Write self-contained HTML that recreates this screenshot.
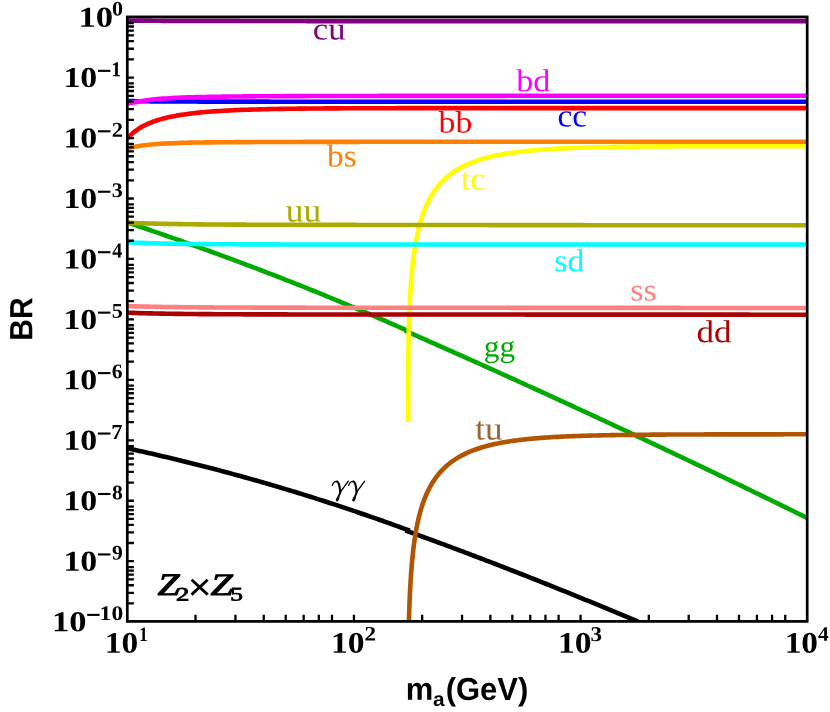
<!DOCTYPE html>
<html><head><meta charset="utf-8"><title>BR plot</title>
<style>html,body{margin:0;padding:0;background:#fff}body{width:830px;height:712px;overflow:hidden}svg{display:block;will-change:transform}</style>
</head><body>
<svg width="830" height="712" viewBox="0 0 830 712">
<rect x="0" y="0" width="830" height="712" fill="#fff"/>
<defs><clipPath id="c"><rect x="127.30" y="16.90" width="679.90" height="604.50"/></clipPath></defs>
<g clip-path="url(#c)">
<path d="M127.30,448.30 L130.30,448.94 L133.30,449.59 L136.30,450.25 L139.30,450.91 L142.30,451.58 L145.30,452.25 L148.30,452.93 L151.30,453.61 L154.30,454.30 L157.30,454.99 L160.30,455.68 L163.30,456.39 L166.30,457.09 L169.30,457.80 L172.30,458.52 L175.30,459.24 L178.30,459.96 L181.30,460.69 L184.30,461.43 L187.30,462.17 L190.30,462.91 L193.30,463.66 L196.30,464.42 L199.30,465.18 L202.30,465.94 L205.30,466.71 L208.30,467.49 L211.30,468.27 L214.30,469.05 L217.30,469.84 L220.30,470.63 L223.30,471.43 L226.30,472.24 L229.30,473.05 L232.30,473.86 L235.30,474.68 L238.30,475.50 L241.30,476.33 L244.30,477.16 L247.30,478.00 L250.30,478.84 L253.30,479.69 L256.30,480.54 L259.30,481.40 L262.30,482.26 L265.30,483.13 L268.30,484.00 L271.30,484.88 L274.30,485.76 L277.30,486.65 L280.30,487.54 L283.30,488.44 L286.30,489.34 L289.30,490.25 L292.30,491.16 L295.30,492.07 L298.30,492.99 L301.30,493.92 L304.30,494.85 L307.30,495.79 L310.30,496.73 L313.30,497.67 L316.30,498.62 L319.30,499.58 L322.30,500.54 L325.30,501.51 L328.30,502.48 L331.30,503.45 L334.30,504.43 L337.30,505.42 L340.30,506.40 L343.30,507.40 L346.30,508.40 L349.30,509.40 L352.30,510.41 L355.30,511.43 L358.30,512.45 L361.30,513.47 L364.30,514.50 L367.30,515.53 L370.30,516.57 L373.30,517.61 L376.30,518.66 L379.30,519.72 L382.30,520.77 L385.30,521.84 L388.30,522.90 L391.30,523.98 L394.30,525.05 L397.30,526.14 L400.30,527.22 L403.30,528.32 L406.30,529.41 L409.30,530.52 L409.80,530.70" fill="none" stroke="#000" stroke-width="4.6" stroke-linejoin="round" stroke-linecap="butt"/>
<path d="M405.40,530.42 L408.40,531.51 L411.40,532.60 L414.40,533.68 L417.40,534.78 L420.40,535.87 L423.40,536.97 L426.40,538.07 L429.40,539.17 L432.40,540.27 L435.40,541.38 L438.40,542.49 L441.40,543.60 L444.40,544.71 L447.40,545.83 L450.40,546.95 L453.40,548.07 L456.40,549.19 L459.40,550.31 L462.40,551.44 L465.40,552.57 L468.40,553.71 L471.40,554.84 L474.40,555.98 L477.40,557.12 L480.40,558.26 L483.40,559.41 L486.40,560.55 L489.40,561.70 L492.40,562.85 L495.40,564.01 L498.40,565.17 L501.40,566.32 L504.40,567.49 L507.40,568.65 L510.40,569.82 L513.40,570.99 L516.40,572.16 L519.40,573.33 L522.40,574.51 L525.40,575.69 L528.40,576.87 L531.40,578.05 L534.40,579.24 L537.40,580.42 L540.40,581.61 L543.40,582.81 L546.40,584.00 L549.40,585.20 L552.40,586.40 L555.40,587.60 L558.40,588.81 L561.40,590.02 L564.40,591.23 L567.40,592.44 L570.40,593.65 L573.40,594.87 L576.40,596.09 L579.40,597.31 L582.40,598.54 L585.40,599.76 L588.40,600.99 L591.40,602.22 L594.40,603.46 L597.40,604.69 L600.40,605.93 L603.40,607.17 L606.40,608.42 L609.40,609.66 L612.40,610.91 L615.40,612.16 L618.40,613.42 L621.40,614.67 L624.40,615.93 L627.40,617.19 L630.40,618.45 L633.40,619.72 L636.40,620.99 L639.40,622.26 L642.40,623.53 L645.40,624.80" fill="none" stroke="#000" stroke-width="4.6" stroke-linejoin="round" stroke-linecap="butt"/>
<path d="M127.30,222.39 L130.30,223.40 L133.30,224.42 L136.30,225.43 L139.30,226.45 L142.30,227.48 L145.30,228.50 L148.30,229.53 L151.30,230.56 L154.30,231.60 L157.30,232.63 L160.30,233.67 L163.30,234.71 L166.30,235.76 L169.30,236.80 L172.30,237.85 L175.30,238.91 L178.30,239.96 L181.30,241.02 L184.30,242.08 L187.30,243.14 L190.30,244.21 L193.30,245.28 L196.30,246.35 L199.30,247.43 L202.30,248.51 L205.30,249.59 L208.30,250.67 L211.30,251.76 L214.30,252.85 L217.30,253.94 L220.30,255.04 L223.30,256.14 L226.30,257.24 L229.30,258.35 L232.30,259.46 L235.30,260.57 L238.30,261.69 L241.30,262.81 L244.30,263.93 L247.30,265.06 L250.30,266.19 L253.30,267.32 L256.30,268.46 L259.30,269.60 L262.30,270.74 L265.30,271.89 L268.30,273.04 L271.30,274.20 L274.30,275.35 L277.30,276.51 L280.30,277.68 L283.30,278.85 L286.30,280.02 L289.30,281.20 L292.30,282.38 L295.30,283.56 L298.30,284.75 L301.30,285.94 L304.30,287.14 L307.30,288.34 L310.30,289.54 L313.30,290.75 L316.30,291.96 L319.30,293.17 L322.30,294.39 L325.30,295.61 L328.30,296.84 L331.30,298.07 L334.30,299.31 L337.30,300.55 L340.30,301.79 L343.30,303.04 L346.30,304.29 L349.30,305.55 L352.30,306.81 L355.30,308.07 L358.30,309.34 L361.30,310.62 L364.30,311.89 L367.30,313.18 L370.30,314.46 L373.30,315.75 L376.30,317.05 L379.30,318.35 L382.30,319.65 L385.30,320.96 L388.30,322.28 L391.30,323.60 L394.30,324.92 L397.30,326.25 L400.30,327.58 L403.30,328.92 L406.30,330.26 L408.00,331.02" fill="none" stroke="#00AA00" stroke-width="4.6" stroke-linejoin="round" stroke-linecap="butt"/>
<path d="M405.00,330.72 L408.00,332.04 L411.00,333.36 L414.00,334.68 L417.00,336.00 L420.00,337.32 L423.00,338.65 L426.00,339.97 L429.00,341.30 L432.00,342.63 L435.00,343.95 L438.00,345.28 L441.00,346.61 L444.00,347.95 L447.00,349.28 L450.00,350.61 L453.00,351.95 L456.00,353.29 L459.00,354.62 L462.00,355.96 L465.00,357.30 L468.00,358.64 L471.00,359.99 L474.00,361.33 L477.00,362.67 L480.00,364.02 L483.00,365.37 L486.00,366.72 L489.00,368.07 L492.00,369.42 L495.00,370.77 L498.00,372.12 L501.00,373.48 L504.00,374.83 L507.00,376.19 L510.00,377.55 L513.00,378.91 L516.00,380.27 L519.00,381.63 L522.00,382.99 L525.00,384.36 L528.00,385.72 L531.00,387.09 L534.00,388.45 L537.00,389.82 L540.00,391.19 L543.00,392.56 L546.00,393.94 L549.00,395.31 L552.00,396.69 L555.00,398.06 L558.00,399.44 L561.00,400.82 L564.00,402.20 L567.00,403.58 L570.00,404.96 L573.00,406.34 L576.00,407.73 L579.00,409.11 L582.00,410.50 L585.00,411.89 L588.00,413.27 L591.00,414.66 L594.00,416.06 L597.00,417.45 L600.00,418.84 L603.00,420.24 L606.00,421.63 L609.00,423.03 L612.00,424.43 L615.00,425.83 L618.00,427.23 L621.00,428.63 L624.00,430.03 L627.00,431.44 L630.00,432.84 L633.00,434.25 L636.00,435.66 L639.00,437.07 L642.00,438.48 L645.00,439.89 L648.00,441.30 L651.00,442.72 L654.00,444.13 L657.00,445.55 L660.00,446.97 L663.00,448.38 L666.00,449.80 L669.00,451.23 L672.00,452.65 L675.00,454.07 L678.00,455.50 L681.00,456.92 L684.00,458.35 L687.00,459.78 L690.00,461.21 L693.00,462.64 L696.00,464.07 L699.00,465.50 L702.00,466.94 L705.00,468.37 L708.00,469.81 L711.00,471.25 L714.00,472.68 L717.00,474.13 L720.00,475.57 L723.00,477.01 L726.00,478.45 L729.00,479.90 L732.00,481.34 L735.00,482.79 L738.00,484.24 L741.00,485.69 L744.00,487.14 L747.00,488.59 L750.00,490.04 L753.00,491.50 L756.00,492.95 L759.00,494.41 L762.00,495.87 L765.00,497.33 L768.00,498.79 L771.00,500.25 L774.00,501.71 L777.00,503.18 L780.00,504.64 L783.00,506.11 L786.00,507.58 L789.00,509.04 L792.00,510.51 L795.00,511.99 L798.00,513.46 L801.00,514.93 L804.00,516.41 L807.00,517.88 L807.20,517.98" fill="none" stroke="#00AA00" stroke-width="4.6" stroke-linejoin="round" stroke-linecap="butt"/>
<path d="M408.19,421.90 L408.20,421.76 L408.20,421.12 L408.20,420.48 L408.20,419.84 L408.20,419.20 L408.20,418.55 L408.20,417.91 L408.20,417.27 L408.20,416.63 L408.20,415.98 L408.20,415.34 L408.20,414.70 L408.20,414.06 L408.20,413.41 L408.20,412.77 L408.20,412.12 L408.20,411.48 L408.20,410.84 L408.20,410.19 L408.20,409.55 L408.20,408.90 L408.20,408.26 L408.20,407.61 L408.21,406.97 L408.21,406.32 L408.21,405.67 L408.21,405.03 L408.21,404.38 L408.21,403.73 L408.21,403.08 L408.21,402.43 L408.21,401.78 L408.21,401.14 L408.21,400.48 L408.21,399.83 L408.21,399.18 L408.21,398.53 L408.21,397.88 L408.21,397.23 L408.21,396.57 L408.21,395.92 L408.21,395.26 L408.21,394.61 L408.21,393.95 L408.21,393.29 L408.22,392.63 L408.22,391.97 L408.22,391.31 L408.22,390.65 L408.22,389.99 L408.22,389.32 L408.22,388.66 L408.22,387.99 L408.22,387.32 L408.22,386.65 L408.22,385.98 L408.23,385.31 L408.23,384.64 L408.23,383.96 L408.23,383.28 L408.23,382.60 L408.23,381.92 L408.23,381.24 L408.24,380.55 L408.24,379.87 L408.24,379.18 L408.24,378.48 L408.24,377.79 L408.25,377.09 L408.25,376.39 L408.25,375.69 L408.25,374.98 L408.26,374.27 L408.26,373.56 L408.26,372.84 L408.26,372.12 L408.27,371.40 L408.27,370.67 L408.28,369.93 L408.28,369.20 L408.28,368.45 L408.29,367.71 L408.29,366.96 L408.30,366.20 L408.30,365.44 L408.31,364.67 L408.31,363.90 L408.32,363.11 L408.32,362.33 L408.33,361.53 L408.33,360.73 L408.34,359.93 L408.35,359.11 L408.36,358.29 L408.36,357.46 L408.37,356.62 L408.38,355.77 L408.39,354.91 L408.40,354.04 L408.41,353.16 L408.42,352.27 L408.43,351.38 L408.44,350.47 L408.45,349.55 L408.47,348.61 L408.48,347.67 L408.49,346.71 L408.51,345.74 L408.52,344.75 L408.54,343.76 L408.56,342.74 L408.57,341.72 L408.59,340.67 L408.61,339.62 L408.63,338.54 L408.66,337.45 L408.68,336.35 L408.70,335.22 L408.73,334.08 L408.75,332.92 L408.78,331.75 L408.81,330.55 L408.84,329.34 L408.87,328.10 L408.91,326.85 L408.94,325.57 L408.98,324.28 L409.02,322.97 L409.06,321.63 L409.10,320.27 L409.15,318.90 L409.19,317.50 L409.24,316.08 L409.29,314.64 L409.35,313.17 L409.41,311.69 L409.47,310.18 L409.53,308.65 L409.60,307.11 L409.67,305.53 L409.74,303.94 L409.82,302.33 L409.90,300.69 L409.98,299.03 L410.07,297.36 L410.16,295.66 L410.26,293.94 L410.36,292.20 L410.47,290.45 L410.58,288.67 L410.70,286.87 L410.83,285.06 L410.96,283.23 L411.10,281.38 L411.24,279.51 L411.39,277.63 L411.55,275.73 L411.72,273.82 L411.90,271.89 L412.08,269.95 L412.27,267.99 L412.48,266.02 L412.69,264.04 L412.92,262.05 L413.15,260.05 L413.40,258.03 L413.66,256.01 L413.93,253.98 L414.22,251.94 L414.52,249.90 L414.83,247.85 L415.16,245.79 L415.51,243.73 L415.87,241.66 L416.26,239.59 L416.66,237.52 L417.08,235.45 L417.52,233.38 L417.99,231.30 L418.48,229.23 L418.99,227.16 L419.53,225.10 L420.09,223.04 L420.69,220.98 L421.31,218.93 L421.96,216.89 L422.65,214.85 L423.37,212.82 L424.13,210.81 L424.92,208.80 L425.76,206.81 L426.64,204.82 L427.56,202.86 L428.52,200.91 L429.53,198.97 L430.60,197.05 L431.72,195.16 L432.89,193.28 L434.12,191.42 L435.42,189.59 L436.77,187.77 L438.20,185.99 L438.70,185.39 L440.20,183.66 L441.70,182.04 L443.20,180.51 L444.70,179.07 L446.20,177.71 L447.70,176.43 L449.20,175.21 L450.70,174.05 L452.20,172.96 L453.70,171.91 L455.20,170.92 L456.70,169.98 L458.20,169.08 L459.70,168.22 L461.20,167.40 L462.70,166.62 L464.20,165.87 L465.70,165.15 L467.20,164.47 L468.70,163.81 L470.20,163.18 L471.70,162.58 L473.20,162.00 L474.70,161.45 L476.20,160.92 L477.70,160.40 L479.20,159.91 L480.70,159.44 L482.20,158.99 L483.70,158.55 L485.20,158.13 L486.70,157.73 L488.20,157.34 L489.70,156.96 L491.20,156.60 L492.70,156.25 L494.20,155.92 L495.70,155.59 L497.20,155.28 L498.70,154.98 L500.20,154.69 L501.70,154.41 L503.20,154.14 L504.70,153.88 L506.20,153.63 L507.70,153.39 L509.20,153.16 L510.70,152.93 L512.20,152.71 L513.70,152.50 L515.20,152.30 L516.70,152.10 L518.20,151.91 L519.70,151.72 L521.20,151.55 L522.70,151.37 L524.20,151.21 L525.70,151.05 L527.20,150.89 L528.70,150.74 L530.20,150.60 L531.70,150.46 L533.20,150.32 L534.70,150.19 L536.20,150.06 L537.70,149.94 L539.20,149.82 L540.70,149.70 L542.20,149.59 L543.70,149.48 L545.20,149.38 L546.70,149.28 L548.20,149.18 L549.70,149.08 L551.20,148.99 L552.70,148.90 L554.20,148.81 L555.70,148.73 L557.20,148.65 L558.70,148.57 L560.20,148.50 L561.70,148.42 L563.20,148.35 L564.70,148.28 L566.20,148.22 L567.70,148.15 L569.20,148.09 L570.70,148.03 L572.20,147.97 L573.70,147.91 L575.20,147.86 L576.70,147.80 L578.20,147.75 L579.70,147.70 L581.20,147.65 L582.70,147.60 L584.20,147.56 L585.70,147.51 L587.20,147.47 L588.70,147.43 L590.20,147.39 L591.70,147.35 L593.20,147.31 L594.70,147.27 L596.20,147.24 L597.70,147.20 L599.20,147.17 L600.70,147.14 L602.20,147.11 L603.70,147.08 L605.20,147.05 L606.70,147.02 L608.20,146.99 L609.70,146.96 L611.20,146.94 L612.70,146.91 L614.20,146.89 L615.70,146.86 L617.20,146.84 L618.70,146.82 L620.20,146.80 L621.70,146.78 L623.20,146.76 L624.70,146.74 L626.20,146.72 L627.70,146.70 L629.20,146.68 L630.70,146.66 L632.20,146.65 L633.70,146.63 L635.20,146.61 L636.70,146.60 L638.20,146.58 L639.70,146.57 L641.20,146.55 L642.70,146.54 L644.20,146.53 L645.70,146.51 L647.20,146.50 L648.70,146.49 L650.20,146.48 L651.70,146.47 L653.20,146.46 L654.70,146.44 L656.20,146.43 L657.70,146.42 L659.20,146.41 L660.70,146.40 L662.20,146.40 L663.70,146.39 L665.20,146.38 L666.70,146.37 L668.20,146.36 L669.70,146.35 L671.20,146.35 L672.70,146.34 L674.20,146.33 L675.70,146.32 L677.20,146.32 L678.70,146.31 L680.20,146.30 L681.70,146.30 L683.20,146.29 L684.70,146.29 L686.20,146.28 L687.70,146.28 L689.20,146.27 L690.70,146.27 L692.20,146.26 L693.70,146.26 L695.20,146.25 L696.70,146.25 L698.20,146.24 L699.70,146.24 L701.20,146.23 L702.70,146.23 L704.20,146.23 L705.70,146.22 L707.20,146.22 L708.70,146.21 L710.20,146.21 L711.70,146.21 L713.20,146.20 L714.70,146.20 L716.20,146.20 L717.70,146.20 L719.20,146.19 L720.70,146.19 L722.20,146.19 L723.70,146.18 L725.20,146.18 L726.70,146.18 L728.20,146.18 L729.70,146.17 L731.20,146.17 L732.70,146.17 L734.20,146.17 L735.70,146.17 L737.20,146.16 L738.70,146.16 L740.20,146.16 L741.70,146.16 L743.20,146.16 L744.70,146.16 L746.20,146.15 L747.70,146.15 L749.20,146.15 L750.70,146.15 L752.20,146.15 L753.70,146.15 L755.20,146.14 L756.70,146.14 L758.20,146.14 L759.70,146.14 L761.20,146.14 L762.70,146.14 L764.20,146.14 L765.70,146.14 L767.20,146.13 L768.70,146.13 L770.20,146.13 L771.70,146.13 L773.20,146.13 L774.70,146.13 L776.20,146.13 L777.70,146.13 L779.20,146.13 L780.70,146.13 L782.20,146.13 L783.70,146.12 L785.20,146.12 L786.70,146.12 L788.20,146.12 L789.70,146.12 L791.20,146.12 L792.70,146.12 L794.20,146.12 L795.70,146.12 L797.20,146.12 L798.70,146.12 L800.20,146.12 L801.70,146.12 L803.20,146.12 L804.70,146.12 L806.20,146.12 L807.20,146.12" fill="none" stroke="#FFFF00" stroke-width="4.6" stroke-linejoin="round" stroke-linecap="butt"/>
<path d="M408.83,624.62 L408.90,622.10 L408.97,619.58 L409.04,617.07 L409.12,614.55 L409.20,612.04 L409.28,609.52 L409.37,607.01 L409.46,604.51 L409.56,602.00 L409.66,599.50 L409.77,597.00 L409.88,594.50 L410.00,592.01 L410.13,589.52 L410.26,587.03 L410.40,584.55 L410.54,582.07 L410.69,579.59 L410.85,577.12 L411.02,574.65 L411.20,572.19 L411.38,569.73 L411.57,567.27 L411.78,564.82 L411.99,562.38 L412.22,559.94 L412.45,557.50 L412.70,555.08 L412.96,552.66 L413.23,550.24 L413.52,547.84 L413.82,545.44 L414.13,543.04 L414.46,540.66 L414.81,538.28 L415.17,535.92 L415.56,533.56 L415.96,531.21 L416.38,528.87 L416.82,526.54 L417.29,524.23 L417.78,521.92 L418.29,519.63 L418.83,517.35 L419.39,515.08 L419.99,512.83 L420.61,510.59 L421.26,508.37 L421.95,506.16 L422.67,503.97 L423.43,501.79 L424.22,499.64 L425.06,497.50 L425.94,495.38 L426.86,493.29 L427.82,491.21 L428.83,489.16 L429.90,487.13 L431.02,485.12 L432.19,483.14 L433.42,481.18 L434.72,479.25 L436.07,477.35 L437.50,475.48 L438.00,474.85 L439.50,473.05 L441.00,471.36 L442.50,469.76 L444.00,468.26 L445.50,466.85 L447.00,465.51 L448.50,464.25 L450.00,463.05 L451.50,461.91 L453.00,460.83 L454.50,459.81 L456.00,458.83 L457.50,457.90 L459.00,457.01 L460.50,456.17 L462.00,455.36 L463.50,454.59 L465.00,453.85 L466.50,453.14 L468.00,452.47 L469.50,451.82 L471.00,451.20 L472.50,450.60 L474.00,450.03 L475.50,449.48 L477.00,448.96 L478.50,448.45 L480.00,447.97 L481.50,447.50 L483.00,447.05 L484.50,446.62 L486.00,446.21 L487.50,445.81 L489.00,445.42 L490.50,445.05 L492.00,444.69 L493.50,444.35 L495.00,444.02 L496.50,443.70 L498.00,443.39 L499.50,443.09 L501.00,442.81 L502.50,442.53 L504.00,442.26 L505.50,442.01 L507.00,441.76 L508.50,441.52 L510.00,441.29 L511.50,441.06 L513.00,440.85 L514.50,440.64 L516.00,440.44 L517.50,440.24 L519.00,440.05 L520.50,439.87 L522.00,439.69 L523.50,439.52 L525.00,439.36 L526.50,439.20 L528.00,439.05 L529.50,438.90 L531.00,438.75 L532.50,438.61 L534.00,438.48 L535.50,438.35 L537.00,438.22 L538.50,438.10 L540.00,437.98 L541.50,437.87 L543.00,437.76 L544.50,437.65 L546.00,437.55 L547.50,437.45 L549.00,437.35 L550.50,437.25 L552.00,437.16 L553.50,437.07 L555.00,436.99 L556.50,436.91 L558.00,436.83 L559.50,436.75 L561.00,436.67 L562.50,436.60 L564.00,436.53 L565.50,436.46 L567.00,436.40 L568.50,436.33 L570.00,436.27 L571.50,436.21 L573.00,436.15 L574.50,436.09 L576.00,436.04 L577.50,435.99 L579.00,435.93 L580.50,435.89 L582.00,435.84 L583.50,435.79 L585.00,435.74 L586.50,435.70 L588.00,435.66 L589.50,435.62 L591.00,435.58 L592.50,435.54 L594.00,435.50 L595.50,435.46 L597.00,435.43 L598.50,435.39 L600.00,435.36 L601.50,435.33 L603.00,435.30 L604.50,435.27 L606.00,435.24 L607.50,435.21 L609.00,435.18 L610.50,435.16 L612.00,435.13 L613.50,435.10 L615.00,435.08 L616.50,435.06 L618.00,435.03 L619.50,435.01 L621.00,434.99 L622.50,434.97 L624.00,434.95 L625.50,434.93 L627.00,434.91 L628.50,434.89 L630.00,434.87 L631.50,434.86 L633.00,434.84 L634.50,434.82 L636.00,434.81 L637.50,434.79 L639.00,434.78 L640.50,434.76 L642.00,434.75 L643.50,434.74 L645.00,434.72 L646.50,434.71 L648.00,434.70 L649.50,434.69 L651.00,434.67 L652.50,434.66 L654.00,434.65 L655.50,434.64 L657.00,434.63 L658.50,434.62 L660.00,434.61 L661.50,434.60 L663.00,434.59 L664.50,434.58 L666.00,434.58 L667.50,434.57 L669.00,434.56 L670.50,434.55 L672.00,434.54 L673.50,434.54 L675.00,434.53 L676.50,434.52 L678.00,434.52 L679.50,434.51 L681.00,434.50 L682.50,434.50 L684.00,434.49 L685.50,434.49 L687.00,434.48 L688.50,434.47 L690.00,434.47 L691.50,434.46 L693.00,434.46 L694.50,434.45 L696.00,434.45 L697.50,434.45 L699.00,434.44 L700.50,434.44 L702.00,434.43 L703.50,434.43 L705.00,434.42 L706.50,434.42 L708.00,434.42 L709.50,434.41 L711.00,434.41 L712.50,434.41 L714.00,434.40 L715.50,434.40 L717.00,434.40 L718.50,434.39 L720.00,434.39 L721.50,434.39 L723.00,434.39 L724.50,434.38 L726.00,434.38 L727.50,434.38 L729.00,434.38 L730.50,434.37 L732.00,434.37 L733.50,434.37 L735.00,434.37 L736.50,434.37 L738.00,434.36 L739.50,434.36 L741.00,434.36 L742.50,434.36 L744.00,434.36 L745.50,434.35 L747.00,434.35 L748.50,434.35 L750.00,434.35 L751.50,434.35 L753.00,434.35 L754.50,434.35 L756.00,434.34 L757.50,434.34 L759.00,434.34 L760.50,434.34 L762.00,434.34 L763.50,434.34 L765.00,434.34 L766.50,434.34 L768.00,434.33 L769.50,434.33 L771.00,434.33 L772.50,434.33 L774.00,434.33 L775.50,434.33 L777.00,434.33 L778.50,434.33 L780.00,434.33 L781.50,434.33 L783.00,434.33 L784.50,434.32 L786.00,434.32 L787.50,434.32 L789.00,434.32 L790.50,434.32 L792.00,434.32 L793.50,434.32 L795.00,434.32 L796.50,434.32 L798.00,434.32 L799.50,434.32 L801.00,434.32 L802.50,434.32 L804.00,434.32 L805.50,434.32 L807.00,434.32 L807.20,434.32" fill="none" stroke="#B25500" stroke-width="4.6" stroke-linejoin="round" stroke-linecap="butt"/>
<path d="M127.30,20.55 L130.30,20.57 L133.30,20.60 L136.30,20.62 L139.30,20.64 L142.30,20.66 L145.30,20.68 L148.30,20.70 L151.30,20.71 L154.30,20.73 L157.30,20.75 L160.30,20.76 L163.30,20.78 L166.30,20.79 L169.30,20.80 L172.30,20.81 L175.30,20.83 L178.30,20.84 L181.30,20.85 L184.30,20.86 L187.30,20.87 L190.30,20.88 L193.30,20.88 L196.30,20.89 L199.30,20.90 L202.30,20.91 L205.30,20.91 L208.30,20.92 L211.30,20.93 L214.30,20.93 L217.30,20.94 L220.30,20.94 L223.30,20.95 L226.30,20.95 L229.30,20.96 L232.30,20.96 L235.30,20.97 L238.30,20.97 L241.30,20.98 L244.30,20.98 L247.30,20.98 L250.30,20.99 L253.30,20.99 L256.30,20.99 L259.30,20.99 L262.30,21.00 L265.30,21.00 L268.30,21.00 L271.30,21.00 L274.30,21.01 L277.30,21.01 L280.30,21.01 L283.30,21.01 L286.30,21.01 L289.30,21.02 L292.30,21.02 L295.30,21.02 L298.30,21.02 L301.30,21.02 L304.30,21.02 L307.30,21.03 L310.30,21.03 L313.30,21.03 L316.30,21.03 L319.30,21.03 L322.30,21.03 L325.30,21.03 L328.30,21.03 L331.30,21.03 L334.30,21.03 L337.30,21.03 L340.30,21.04 L343.30,21.04 L346.30,21.04 L349.30,21.04 L352.30,21.04 L355.30,21.04 L358.30,21.04 L361.30,21.04 L364.30,21.04 L367.30,21.04 L370.30,21.04 L373.30,21.04 L376.30,21.04 L379.30,21.04 L382.30,21.04 L385.30,21.04 L388.30,21.04 L391.30,21.04 L394.30,21.04 L397.30,21.04 L400.30,21.04 L403.30,21.04 L406.30,21.05 L409.30,21.05 L412.30,21.05 L415.30,21.05 L418.30,21.05 L421.30,21.05 L424.30,21.05 L427.30,21.05 L430.30,21.05 L433.30,21.05 L436.30,21.05 L439.30,21.05 L442.30,21.05 L445.30,21.05 L448.30,21.05 L451.30,21.05 L454.30,21.05 L457.30,21.05 L460.30,21.05 L463.30,21.05 L466.30,21.05 L469.30,21.05 L472.30,21.05 L475.30,21.05 L478.30,21.05 L481.30,21.05 L484.30,21.05 L487.30,21.05 L490.30,21.05 L493.30,21.05 L496.30,21.05 L499.30,21.05 L502.30,21.05 L505.30,21.05 L508.30,21.05 L511.30,21.05 L514.30,21.05 L517.30,21.05 L520.30,21.05 L523.30,21.05 L526.30,21.05 L529.30,21.05 L532.30,21.05 L535.30,21.05 L538.30,21.05 L541.30,21.05 L544.30,21.05 L547.30,21.05 L550.30,21.05 L553.30,21.05 L556.30,21.05 L559.30,21.05 L562.30,21.05 L565.30,21.05 L568.30,21.05 L571.30,21.05 L574.30,21.05 L577.30,21.05 L580.30,21.05 L583.30,21.05 L586.30,21.05 L589.30,21.05 L592.30,21.05 L595.30,21.05 L598.30,21.05 L601.30,21.05 L604.30,21.05 L607.30,21.05 L610.30,21.05 L613.30,21.05 L616.30,21.05 L619.30,21.05 L622.30,21.05 L625.30,21.05 L628.30,21.05 L631.30,21.05 L634.30,21.05 L637.30,21.05 L640.30,21.05 L643.30,21.05 L646.30,21.05 L649.30,21.05 L652.30,21.05 L655.30,21.05 L658.30,21.05 L661.30,21.05 L664.30,21.05 L667.30,21.05 L670.30,21.05 L673.30,21.05 L676.30,21.05 L679.30,21.05 L682.30,21.05 L685.30,21.05 L688.30,21.05 L691.30,21.05 L694.30,21.05 L697.30,21.05 L700.30,21.05 L703.30,21.05 L706.30,21.05 L709.30,21.05 L712.30,21.05 L715.30,21.05 L718.30,21.05 L721.30,21.05 L724.30,21.05 L727.30,21.05 L730.30,21.05 L733.30,21.05 L736.30,21.05 L739.30,21.05 L742.30,21.05 L745.30,21.05 L748.30,21.05 L751.30,21.05 L754.30,21.05 L757.30,21.05 L760.30,21.05 L763.30,21.05 L766.30,21.05 L769.30,21.05 L772.30,21.05 L775.30,21.05 L778.30,21.05 L781.30,21.05 L784.30,21.05 L787.30,21.05 L790.30,21.05 L793.30,21.05 L796.30,21.05 L799.30,21.05 L802.30,21.05 L807.20,21.05" fill="none" stroke="#800080" stroke-width="4.7" stroke-linejoin="round" stroke-linecap="butt"/>
<path d="M127.30,101.10 L130.30,101.14 L133.30,101.17 L136.30,101.21 L139.30,101.24 L142.30,101.27 L145.30,101.30 L148.30,101.32 L151.30,101.35 L154.30,101.37 L157.30,101.39 L160.30,101.41 L163.30,101.43 L166.30,101.45 L169.30,101.46 L172.30,101.48 L175.30,101.49 L178.30,101.51 L181.30,101.52 L184.30,101.53 L187.30,101.54 L190.30,101.55 L193.30,101.56 L196.30,101.57 L199.30,101.58 L202.30,101.59 L205.30,101.59 L208.30,101.60 L211.30,101.61 L214.30,101.61 L217.30,101.62 L220.30,101.62 L223.30,101.63 L226.30,101.63 L229.30,101.64 L232.30,101.64 L235.30,101.65 L238.30,101.65 L241.30,101.65 L244.30,101.66 L247.30,101.66 L250.30,101.66 L253.30,101.66 L256.30,101.67 L259.30,101.67 L262.30,101.67 L265.30,101.67 L268.30,101.67 L271.30,101.68 L274.30,101.68 L277.30,101.68 L280.30,101.68 L283.30,101.68 L286.30,101.68 L289.30,101.68 L292.30,101.68 L295.30,101.69 L298.30,101.69 L301.30,101.69 L304.30,101.69 L307.30,101.69 L310.30,101.69 L313.30,101.69 L316.30,101.69 L319.30,101.69 L322.30,101.69 L325.30,101.69 L328.30,101.69 L331.30,101.69 L334.30,101.69 L337.30,101.69 L340.30,101.69 L343.30,101.70 L346.30,101.70 L349.30,101.70 L352.30,101.70 L355.30,101.70 L358.30,101.70 L361.30,101.70 L364.30,101.70 L367.30,101.70 L370.30,101.70 L373.30,101.70 L376.30,101.70 L379.30,101.70 L382.30,101.70 L385.30,101.70 L388.30,101.70 L391.30,101.70 L394.30,101.70 L397.30,101.70 L400.30,101.70 L403.30,101.70 L406.30,101.70 L409.30,101.70 L412.30,101.70 L415.30,101.70 L418.30,101.70 L421.30,101.70 L424.30,101.70 L427.30,101.70 L430.30,101.70 L433.30,101.70 L436.30,101.70 L439.30,101.70 L442.30,101.70 L445.30,101.70 L448.30,101.70 L451.30,101.70 L454.30,101.70 L457.30,101.70 L460.30,101.70 L463.30,101.70 L466.30,101.70 L469.30,101.70 L472.30,101.70 L475.30,101.70 L478.30,101.70 L481.30,101.70 L484.30,101.70 L487.30,101.70 L490.30,101.70 L493.30,101.70 L496.30,101.70 L499.30,101.70 L502.30,101.70 L505.30,101.70 L508.30,101.70 L511.30,101.70 L514.30,101.70 L517.30,101.70 L520.30,101.70 L523.30,101.70 L526.30,101.70 L529.30,101.70 L532.30,101.70 L535.30,101.70 L538.30,101.70 L541.30,101.70 L544.30,101.70 L547.30,101.70 L550.30,101.70 L553.30,101.70 L556.30,101.70 L559.30,101.70 L562.30,101.70 L565.30,101.70 L568.30,101.70 L571.30,101.70 L574.30,101.70 L577.30,101.70 L580.30,101.70 L583.30,101.70 L586.30,101.70 L589.30,101.70 L592.30,101.70 L595.30,101.70 L598.30,101.70 L601.30,101.70 L604.30,101.70 L607.30,101.70 L610.30,101.70 L613.30,101.70 L616.30,101.70 L619.30,101.70 L622.30,101.70 L625.30,101.70 L628.30,101.70 L631.30,101.70 L634.30,101.70 L637.30,101.70 L640.30,101.70 L643.30,101.70 L646.30,101.70 L649.30,101.70 L652.30,101.70 L655.30,101.70 L658.30,101.70 L661.30,101.70 L664.30,101.70 L667.30,101.70 L670.30,101.70 L673.30,101.70 L676.30,101.70 L679.30,101.70 L682.30,101.70 L685.30,101.70 L688.30,101.70 L691.30,101.70 L694.30,101.70 L697.30,101.70 L700.30,101.70 L703.30,101.70 L706.30,101.70 L709.30,101.70 L712.30,101.70 L715.30,101.70 L718.30,101.70 L721.30,101.70 L724.30,101.70 L727.30,101.70 L730.30,101.70 L733.30,101.70 L736.30,101.70 L739.30,101.70 L742.30,101.70 L745.30,101.70 L748.30,101.70 L751.30,101.70 L754.30,101.70 L757.30,101.70 L760.30,101.70 L763.30,101.70 L766.30,101.70 L769.30,101.70 L772.30,101.70 L775.30,101.70 L778.30,101.70 L781.30,101.70 L784.30,101.70 L787.30,101.70 L790.30,101.70 L793.30,101.70 L796.30,101.70 L799.30,101.70 L802.30,101.70 L807.20,101.70" fill="none" stroke="#0000FF" stroke-width="4.6" stroke-linejoin="round" stroke-linecap="butt"/>
<path d="M127.30,103.50 L130.30,102.95 L133.30,102.41 L136.30,101.89 L139.30,101.39 L142.30,100.91 L145.30,100.47 L148.30,100.06 L151.30,99.70 L154.30,99.38 L157.30,99.10 L160.30,98.87 L163.30,98.66 L166.30,98.46 L169.30,98.27 L172.30,98.09 L175.30,97.92 L178.30,97.77 L181.30,97.62 L184.30,97.49 L187.30,97.38 L190.30,97.28 L193.30,97.19 L196.30,97.12 L199.30,97.06 L202.30,97.00 L205.30,96.94 L208.30,96.89 L211.30,96.84 L214.30,96.79 L217.30,96.74 L220.30,96.70 L223.30,96.65 L226.30,96.61 L229.30,96.57 L232.30,96.53 L235.30,96.50 L238.30,96.47 L241.30,96.43 L244.30,96.40 L247.30,96.38 L250.30,96.35 L253.30,96.33 L256.30,96.30 L259.30,96.28 L262.30,96.26 L265.30,96.24 L268.30,96.23 L271.30,96.21 L274.30,96.20 L277.30,96.19 L280.30,96.18 L283.30,96.16 L286.30,96.15 L289.30,96.14 L292.30,96.13 L295.30,96.12 L298.30,96.11 L301.30,96.10 L304.30,96.09 L307.30,96.08 L310.30,96.07 L313.30,96.06 L316.30,96.05 L319.30,96.04 L322.30,96.04 L325.30,96.03 L328.30,96.02 L331.30,96.01 L334.30,96.00 L337.30,96.00 L340.30,95.99 L343.30,95.98 L346.30,95.98 L349.30,95.97 L352.30,95.97 L355.30,95.96 L358.30,95.95 L361.30,95.95 L364.30,95.94 L367.30,95.94 L370.30,95.93 L373.30,95.93 L376.30,95.93 L379.30,95.92 L382.30,95.92 L385.30,95.91 L388.30,95.91 L391.30,95.91 L394.30,95.91 L397.30,95.90 L400.30,95.90 L403.30,95.90 L406.30,95.89 L409.30,95.89 L412.30,95.89 L415.30,95.89 L418.30,95.88 L421.30,95.88 L424.30,95.88 L427.30,95.88 L430.30,95.87 L433.30,95.87 L436.30,95.87 L439.30,95.87 L442.30,95.87 L445.30,95.86 L448.30,95.86 L451.30,95.86 L454.30,95.86 L457.30,95.85 L460.30,95.85 L463.30,95.85 L466.30,95.85 L469.30,95.85 L472.30,95.84 L475.30,95.84 L478.30,95.84 L481.30,95.84 L484.30,95.84 L487.30,95.84 L490.30,95.83 L493.30,95.83 L496.30,95.83 L499.30,95.83 L502.30,95.83 L505.30,95.83 L508.30,95.82 L511.30,95.82 L514.30,95.82 L517.30,95.82 L520.30,95.82 L523.30,95.82 L526.30,95.82 L529.30,95.81 L532.30,95.81 L535.30,95.81 L538.30,95.81 L541.30,95.81 L544.30,95.81 L547.30,95.81 L550.30,95.81 L553.30,95.81 L556.30,95.81 L559.30,95.81 L562.30,95.80 L565.30,95.80 L568.30,95.80 L571.30,95.80 L574.30,95.80 L577.30,95.80 L580.30,95.80 L583.30,95.80 L586.30,95.80 L589.30,95.80 L592.30,95.80 L595.30,95.80 L598.30,95.80 L601.30,95.80 L604.30,95.80 L607.30,95.80 L610.30,95.80 L613.30,95.80 L616.30,95.80 L619.30,95.80 L622.30,95.80 L625.30,95.80 L628.30,95.80 L631.30,95.80 L634.30,95.80 L637.30,95.80 L640.30,95.80 L643.30,95.80 L646.30,95.80 L649.30,95.80 L652.30,95.80 L655.30,95.80 L658.30,95.80 L661.30,95.80 L664.30,95.80 L667.30,95.80 L670.30,95.80 L673.30,95.80 L676.30,95.80 L679.30,95.80 L682.30,95.80 L685.30,95.80 L688.30,95.80 L691.30,95.80 L694.30,95.80 L697.30,95.80 L700.30,95.80 L703.30,95.80 L706.30,95.80 L709.30,95.80 L712.30,95.80 L715.30,95.80 L718.30,95.80 L721.30,95.80 L724.30,95.80 L727.30,95.80 L730.30,95.80 L733.30,95.80 L736.30,95.80 L739.30,95.80 L742.30,95.80 L745.30,95.80 L748.30,95.80 L751.30,95.80 L754.30,95.80 L757.30,95.80 L760.30,95.80 L763.30,95.80 L766.30,95.80 L769.30,95.80 L772.30,95.80 L775.30,95.80 L778.30,95.80 L781.30,95.80 L784.30,95.80 L787.30,95.80 L790.30,95.80 L793.30,95.80 L796.30,95.80 L799.30,95.80 L802.30,95.80 L807.20,95.80" fill="none" stroke="#FF00FF" stroke-width="4.6" stroke-linejoin="round" stroke-linecap="butt"/>
<path d="M127.30,138.67 L130.30,135.39 L133.30,132.65 L136.30,130.32 L139.30,128.30 L142.30,126.54 L145.30,124.99 L148.30,123.61 L151.30,122.38 L154.30,121.27 L157.30,120.27 L160.30,119.36 L163.30,118.54 L166.30,117.79 L169.30,117.10 L172.30,116.47 L175.30,115.89 L178.30,115.36 L181.30,114.86 L184.30,114.41 L187.30,113.99 L190.30,113.60 L193.30,113.24 L196.30,112.91 L199.30,112.60 L202.30,112.31 L205.30,112.04 L208.30,111.79 L211.30,111.55 L214.30,111.34 L217.30,111.13 L220.30,110.94 L223.30,110.77 L226.30,110.60 L229.30,110.44 L232.30,110.30 L235.30,110.16 L238.30,110.04 L241.30,109.92 L244.30,109.81 L247.30,109.70 L250.30,109.61 L253.30,109.51 L256.30,109.43 L259.30,109.35 L262.30,109.27 L265.30,109.20 L268.30,109.13 L271.30,109.07 L274.30,109.01 L277.30,108.96 L280.30,108.91 L283.30,108.86 L286.30,108.81 L289.30,108.77 L292.30,108.73 L295.30,108.69 L298.30,108.66 L301.30,108.62 L304.30,108.59 L307.30,108.56 L310.30,108.54 L313.30,108.51 L316.30,108.49 L319.30,108.46 L322.30,108.44 L325.30,108.42 L328.30,108.40 L331.30,108.38 L334.30,108.37 L337.30,108.35 L340.30,108.34 L343.30,108.32 L346.30,108.31 L349.30,108.30 L352.30,108.28 L355.30,108.27 L358.30,108.26 L361.30,108.25 L364.30,108.24 L367.30,108.24 L370.30,108.23 L373.30,108.22 L376.30,108.21 L379.30,108.21 L382.30,108.20 L385.30,108.19 L388.30,108.19 L391.30,108.18 L394.30,108.18 L397.30,108.17 L400.30,108.17 L403.30,108.17 L406.30,108.16 L409.30,108.16 L412.30,108.15 L415.30,108.15 L418.30,108.15 L421.30,108.15 L424.30,108.14 L427.30,108.14 L430.30,108.14 L433.30,108.14 L436.30,108.13 L439.30,108.13 L442.30,108.13 L445.30,108.13 L448.30,108.13 L451.30,108.12 L454.30,108.12 L457.30,108.12 L460.30,108.12 L463.30,108.12 L466.30,108.12 L469.30,108.12 L472.30,108.12 L475.30,108.12 L478.30,108.11 L481.30,108.11 L484.30,108.11 L487.30,108.11 L490.30,108.11 L493.30,108.11 L496.30,108.11 L499.30,108.11 L502.30,108.11 L505.30,108.11 L508.30,108.11 L511.30,108.11 L514.30,108.11 L517.30,108.11 L520.30,108.11 L523.30,108.11 L526.30,108.11 L529.30,108.11 L532.30,108.10 L535.30,108.10 L538.30,108.10 L541.30,108.10 L544.30,108.10 L547.30,108.10 L550.30,108.10 L553.30,108.10 L556.30,108.10 L559.30,108.10 L562.30,108.10 L565.30,108.10 L568.30,108.10 L571.30,108.10 L574.30,108.10 L577.30,108.10 L580.30,108.10 L583.30,108.10 L586.30,108.10 L589.30,108.10 L592.30,108.10 L595.30,108.10 L598.30,108.10 L601.30,108.10 L604.30,108.10 L607.30,108.10 L610.30,108.10 L613.30,108.10 L616.30,108.10 L619.30,108.10 L622.30,108.10 L625.30,108.10 L628.30,108.10 L631.30,108.10 L634.30,108.10 L637.30,108.10 L640.30,108.10 L643.30,108.10 L646.30,108.10 L649.30,108.10 L652.30,108.10 L655.30,108.10 L658.30,108.10 L661.30,108.10 L664.30,108.10 L667.30,108.10 L670.30,108.10 L673.30,108.10 L676.30,108.10 L679.30,108.10 L682.30,108.10 L685.30,108.10 L688.30,108.10 L691.30,108.10 L694.30,108.10 L697.30,108.10 L700.30,108.10 L703.30,108.10 L706.30,108.10 L709.30,108.10 L712.30,108.10 L715.30,108.10 L718.30,108.10 L721.30,108.10 L724.30,108.10 L727.30,108.10 L730.30,108.10 L733.30,108.10 L736.30,108.10 L739.30,108.10 L742.30,108.10 L745.30,108.10 L748.30,108.10 L751.30,108.10 L754.30,108.10 L757.30,108.10 L760.30,108.10 L763.30,108.10 L766.30,108.10 L769.30,108.10 L772.30,108.10 L775.30,108.10 L778.30,108.10 L781.30,108.10 L784.30,108.10 L787.30,108.10 L790.30,108.10 L793.30,108.10 L796.30,108.10 L799.30,108.10 L802.30,108.10 L807.20,108.10" fill="none" stroke="#FF0000" stroke-width="4.6" stroke-linejoin="round" stroke-linecap="butt"/>
<path d="M127.30,148.00 L130.30,147.48 L133.30,146.98 L136.30,146.49 L139.30,146.03 L142.30,145.59 L145.30,145.18 L148.30,144.81 L151.30,144.49 L154.30,144.21 L157.30,143.98 L160.30,143.80 L163.30,143.64 L166.30,143.48 L169.30,143.34 L172.30,143.20 L175.30,143.08 L178.30,142.96 L181.30,142.86 L184.30,142.76 L187.30,142.68 L190.30,142.61 L193.30,142.56 L196.30,142.51 L199.30,142.47 L202.30,142.44 L205.30,142.41 L208.30,142.38 L211.30,142.35 L214.30,142.32 L217.30,142.29 L220.30,142.27 L223.30,142.25 L226.30,142.22 L229.30,142.20 L232.30,142.18 L235.30,142.16 L238.30,142.15 L241.30,142.13 L244.30,142.11 L247.30,142.10 L250.30,142.08 L253.30,142.07 L256.30,142.06 L259.30,142.05 L262.30,142.04 L265.30,142.03 L268.30,142.02 L271.30,142.01 L274.30,142.00 L277.30,141.99 L280.30,141.98 L283.30,141.98 L286.30,141.97 L289.30,141.96 L292.30,141.95 L295.30,141.95 L298.30,141.94 L301.30,141.93 L304.30,141.92 L307.30,141.92 L310.30,141.91 L313.30,141.90 L316.30,141.90 L319.30,141.89 L322.30,141.89 L325.30,141.88 L328.30,141.87 L331.30,141.87 L334.30,141.86 L337.30,141.86 L340.30,141.85 L343.30,141.85 L346.30,141.84 L349.30,141.84 L352.30,141.83 L355.30,141.83 L358.30,141.83 L361.30,141.82 L364.30,141.82 L367.30,141.82 L370.30,141.81 L373.30,141.81 L376.30,141.81 L379.30,141.81 L382.30,141.81 L385.30,141.80 L388.30,141.80 L391.30,141.80 L394.30,141.80 L397.30,141.80 L400.30,141.80 L403.30,141.80 L406.30,141.80 L409.30,141.80 L412.30,141.80 L415.30,141.80 L418.30,141.80 L421.30,141.80 L424.30,141.80 L427.30,141.80 L430.30,141.80 L433.30,141.80 L436.30,141.80 L439.30,141.80 L442.30,141.80 L445.30,141.80 L448.30,141.80 L451.30,141.80 L454.30,141.80 L457.30,141.80 L460.30,141.80 L463.30,141.80 L466.30,141.80 L469.30,141.80 L472.30,141.80 L475.30,141.80 L478.30,141.80 L481.30,141.80 L484.30,141.80 L487.30,141.80 L490.30,141.80 L493.30,141.80 L496.30,141.80 L499.30,141.80 L502.30,141.80 L505.30,141.80 L508.30,141.80 L511.30,141.80 L514.30,141.80 L517.30,141.80 L520.30,141.80 L523.30,141.80 L526.30,141.80 L529.30,141.80 L532.30,141.80 L535.30,141.80 L538.30,141.80 L541.30,141.80 L544.30,141.80 L547.30,141.80 L550.30,141.80 L553.30,141.80 L556.30,141.80 L559.30,141.80 L562.30,141.80 L565.30,141.80 L568.30,141.80 L571.30,141.80 L574.30,141.80 L577.30,141.80 L580.30,141.80 L583.30,141.80 L586.30,141.80 L589.30,141.80 L592.30,141.80 L595.30,141.80 L598.30,141.80 L601.30,141.80 L604.30,141.80 L607.30,141.80 L610.30,141.80 L613.30,141.80 L616.30,141.80 L619.30,141.80 L622.30,141.80 L625.30,141.80 L628.30,141.80 L631.30,141.80 L634.30,141.80 L637.30,141.80 L640.30,141.80 L643.30,141.80 L646.30,141.80 L649.30,141.80 L652.30,141.80 L655.30,141.80 L658.30,141.80 L661.30,141.80 L664.30,141.80 L667.30,141.80 L670.30,141.80 L673.30,141.80 L676.30,141.80 L679.30,141.80 L682.30,141.80 L685.30,141.80 L688.30,141.80 L691.30,141.80 L694.30,141.80 L697.30,141.80 L700.30,141.80 L703.30,141.80 L706.30,141.80 L709.30,141.80 L712.30,141.80 L715.30,141.80 L718.30,141.80 L721.30,141.80 L724.30,141.80 L727.30,141.80 L730.30,141.80 L733.30,141.80 L736.30,141.80 L739.30,141.80 L742.30,141.80 L745.30,141.80 L748.30,141.80 L751.30,141.80 L754.30,141.80 L757.30,141.80 L760.30,141.80 L763.30,141.80 L766.30,141.80 L769.30,141.80 L772.30,141.80 L775.30,141.80 L778.30,141.80 L781.30,141.80 L784.30,141.80 L787.30,141.80 L790.30,141.80 L793.30,141.80 L796.30,141.80 L799.30,141.80 L802.30,141.80 L807.20,141.80" fill="none" stroke="#FF8000" stroke-width="4.6" stroke-linejoin="round" stroke-linecap="butt"/>
<path d="M127.30,222.70 L130.30,222.83 L133.30,222.96 L136.30,223.07 L139.30,223.18 L142.30,223.28 L145.30,223.38 L148.30,223.47 L151.30,223.55 L154.30,223.63 L157.30,223.70 L160.30,223.77 L163.30,223.84 L166.30,223.90 L169.30,223.96 L172.30,224.01 L175.30,224.06 L178.30,224.11 L181.30,224.15 L184.30,224.20 L187.30,224.24 L190.30,224.27 L193.30,224.31 L196.30,224.34 L199.30,224.37 L202.30,224.40 L205.30,224.43 L208.30,224.45 L211.30,224.48 L214.30,224.50 L217.30,224.52 L220.30,224.54 L223.30,224.56 L226.30,224.58 L229.30,224.60 L232.30,224.62 L235.30,224.63 L238.30,224.65 L241.30,224.66 L244.30,224.67 L247.30,224.69 L250.30,224.70 L253.30,224.71 L256.30,224.72 L259.30,224.73 L262.30,224.74 L265.30,224.75 L268.30,224.76 L271.30,224.77 L274.30,224.78 L277.30,224.78 L280.30,224.79 L283.30,224.80 L286.30,224.81 L289.30,224.81 L292.30,224.82 L295.30,224.83 L298.30,224.83 L301.30,224.84 L304.30,224.85 L307.30,224.85 L310.30,224.86 L313.30,224.86 L316.30,224.87 L319.30,224.87 L322.30,224.88 L325.30,224.88 L328.30,224.89 L331.30,224.89 L334.30,224.90 L337.30,224.90 L340.30,224.90 L343.30,224.91 L346.30,224.91 L349.30,224.92 L352.30,224.92 L355.30,224.92 L358.30,224.93 L361.30,224.93 L364.30,224.94 L367.30,224.94 L370.30,224.94 L373.30,224.95 L376.30,224.95 L379.30,224.96 L382.30,224.96 L385.30,224.96 L388.30,224.97 L391.30,224.97 L394.30,224.97 L397.30,224.98 L400.30,224.98 L403.30,224.98 L406.30,224.99 L409.30,224.99 L412.30,224.99 L415.30,225.00 L418.30,225.00 L421.30,225.00 L424.30,225.01 L427.30,225.01 L430.30,225.01 L433.30,225.02 L436.30,225.02 L439.30,225.02 L442.30,225.03 L445.30,225.03 L448.30,225.03 L451.30,225.04 L454.30,225.04 L457.30,225.04 L460.30,225.05 L463.30,225.05 L466.30,225.05 L469.30,225.06 L472.30,225.06 L475.30,225.06 L478.30,225.06 L481.30,225.07 L484.30,225.07 L487.30,225.07 L490.30,225.08 L493.30,225.08 L496.30,225.08 L499.30,225.09 L502.30,225.09 L505.30,225.09 L508.30,225.10 L511.30,225.10 L514.30,225.10 L517.30,225.11 L520.30,225.11 L523.30,225.11 L526.30,225.12 L529.30,225.12 L532.30,225.12 L535.30,225.12 L538.30,225.13 L541.30,225.13 L544.30,225.13 L547.30,225.14 L550.30,225.14 L553.30,225.14 L556.30,225.15 L559.30,225.15 L562.30,225.15 L565.30,225.16 L568.30,225.16 L571.30,225.16 L574.30,225.17 L577.30,225.17 L580.30,225.17 L583.30,225.17 L586.30,225.18 L589.30,225.18 L592.30,225.18 L595.30,225.19 L598.30,225.19 L601.30,225.19 L604.30,225.20 L607.30,225.20 L610.30,225.20 L613.30,225.20 L616.30,225.20 L619.30,225.20 L622.30,225.20 L625.30,225.20 L628.30,225.20 L631.30,225.20 L634.30,225.20 L637.30,225.20 L640.30,225.20 L643.30,225.20 L646.30,225.20 L649.30,225.20 L652.30,225.20 L655.30,225.20 L658.30,225.20 L661.30,225.20 L664.30,225.20 L667.30,225.20 L670.30,225.20 L673.30,225.20 L676.30,225.20 L679.30,225.20 L682.30,225.20 L685.30,225.20 L688.30,225.20 L691.30,225.20 L694.30,225.20 L697.30,225.20 L700.30,225.20 L703.30,225.20 L706.30,225.20 L709.30,225.20 L712.30,225.20 L715.30,225.20 L718.30,225.20 L721.30,225.20 L724.30,225.20 L727.30,225.20 L730.30,225.20 L733.30,225.20 L736.30,225.20 L739.30,225.20 L742.30,225.20 L745.30,225.20 L748.30,225.20 L751.30,225.20 L754.30,225.20 L757.30,225.20 L760.30,225.20 L763.30,225.20 L766.30,225.20 L769.30,225.20 L772.30,225.20 L775.30,225.20 L778.30,225.20 L781.30,225.20 L784.30,225.20 L787.30,225.20 L790.30,225.20 L793.30,225.20 L796.30,225.20 L799.30,225.20 L802.30,225.20 L807.20,225.20" fill="none" stroke="#AAAA00" stroke-width="4.6" stroke-linejoin="round" stroke-linecap="butt"/>
<path d="M127.30,242.30 L130.30,242.44 L133.30,242.57 L136.30,242.70 L139.30,242.81 L142.30,242.92 L145.30,243.03 L148.30,243.12 L151.30,243.21 L154.30,243.29 L157.30,243.37 L160.30,243.44 L163.30,243.51 L166.30,243.58 L169.30,243.63 L172.30,243.69 L175.30,243.74 L178.30,243.79 L181.30,243.84 L184.30,243.88 L187.30,243.92 L190.30,243.96 L193.30,243.99 L196.30,244.03 L199.30,244.06 L202.30,244.08 L205.30,244.11 L208.30,244.14 L211.30,244.16 L214.30,244.18 L217.30,244.20 L220.30,244.22 L223.30,244.24 L226.30,244.26 L229.30,244.27 L232.30,244.29 L235.30,244.30 L238.30,244.31 L241.30,244.33 L244.30,244.34 L247.30,244.35 L250.30,244.36 L253.30,244.37 L256.30,244.37 L259.30,244.38 L262.30,244.39 L265.30,244.40 L268.30,244.40 L271.30,244.41 L274.30,244.42 L277.30,244.42 L280.30,244.43 L283.30,244.43 L286.30,244.44 L289.30,244.44 L292.30,244.44 L295.30,244.45 L298.30,244.45 L301.30,244.45 L304.30,244.46 L307.30,244.46 L310.30,244.46 L313.30,244.46 L316.30,244.47 L319.30,244.47 L322.30,244.47 L325.30,244.47 L328.30,244.47 L331.30,244.48 L334.30,244.48 L337.30,244.48 L340.30,244.48 L343.30,244.48 L346.30,244.48 L349.30,244.48 L352.30,244.49 L355.30,244.49 L358.30,244.49 L361.30,244.49 L364.30,244.49 L367.30,244.49 L370.30,244.49 L373.30,244.49 L376.30,244.49 L379.30,244.49 L382.30,244.49 L385.30,244.49 L388.30,244.49 L391.30,244.49 L394.30,244.49 L397.30,244.49 L400.30,244.49 L403.30,244.50 L406.30,244.50 L409.30,244.50 L412.30,244.50 L415.30,244.50 L418.30,244.50 L421.30,244.50 L424.30,244.50 L427.30,244.50 L430.30,244.50 L433.30,244.50 L436.30,244.50 L439.30,244.50 L442.30,244.50 L445.30,244.50 L448.30,244.50 L451.30,244.50 L454.30,244.50 L457.30,244.50 L460.30,244.50 L463.30,244.50 L466.30,244.50 L469.30,244.50 L472.30,244.50 L475.30,244.50 L478.30,244.50 L481.30,244.50 L484.30,244.50 L487.30,244.50 L490.30,244.50 L493.30,244.50 L496.30,244.50 L499.30,244.50 L502.30,244.50 L505.30,244.50 L508.30,244.50 L511.30,244.50 L514.30,244.50 L517.30,244.50 L520.30,244.50 L523.30,244.50 L526.30,244.50 L529.30,244.50 L532.30,244.50 L535.30,244.50 L538.30,244.50 L541.30,244.50 L544.30,244.50 L547.30,244.50 L550.30,244.50 L553.30,244.50 L556.30,244.50 L559.30,244.50 L562.30,244.50 L565.30,244.50 L568.30,244.50 L571.30,244.50 L574.30,244.50 L577.30,244.50 L580.30,244.50 L583.30,244.50 L586.30,244.50 L589.30,244.50 L592.30,244.50 L595.30,244.50 L598.30,244.50 L601.30,244.50 L604.30,244.50 L607.30,244.50 L610.30,244.50 L613.30,244.50 L616.30,244.50 L619.30,244.50 L622.30,244.50 L625.30,244.50 L628.30,244.50 L631.30,244.50 L634.30,244.50 L637.30,244.50 L640.30,244.50 L643.30,244.50 L646.30,244.50 L649.30,244.50 L652.30,244.50 L655.30,244.50 L658.30,244.50 L661.30,244.50 L664.30,244.50 L667.30,244.50 L670.30,244.50 L673.30,244.50 L676.30,244.50 L679.30,244.50 L682.30,244.50 L685.30,244.50 L688.30,244.50 L691.30,244.50 L694.30,244.50 L697.30,244.50 L700.30,244.50 L703.30,244.50 L706.30,244.50 L709.30,244.50 L712.30,244.50 L715.30,244.50 L718.30,244.50 L721.30,244.50 L724.30,244.50 L727.30,244.50 L730.30,244.50 L733.30,244.50 L736.30,244.50 L739.30,244.50 L742.30,244.50 L745.30,244.50 L748.30,244.50 L751.30,244.50 L754.30,244.50 L757.30,244.50 L760.30,244.50 L763.30,244.50 L766.30,244.50 L769.30,244.50 L772.30,244.50 L775.30,244.50 L778.30,244.50 L781.30,244.50 L784.30,244.50 L787.30,244.50 L790.30,244.50 L793.30,244.50 L796.30,244.50 L799.30,244.50 L802.30,244.50 L807.20,244.50" fill="none" stroke="#00FFFF" stroke-width="4.6" stroke-linejoin="round" stroke-linecap="butt"/>
<path d="M127.30,306.10 L130.30,306.20 L133.30,306.29 L136.30,306.38 L139.30,306.46 L142.30,306.53 L145.30,306.61 L148.30,306.67 L151.30,306.73 L154.30,306.79 L157.30,306.85 L160.30,306.90 L163.30,306.95 L166.30,306.99 L169.30,307.03 L172.30,307.07 L175.30,307.11 L178.30,307.15 L181.30,307.18 L184.30,307.21 L187.30,307.24 L190.30,307.27 L193.30,307.29 L196.30,307.32 L199.30,307.34 L202.30,307.36 L205.30,307.38 L208.30,307.40 L211.30,307.42 L214.30,307.43 L217.30,307.45 L220.30,307.46 L223.30,307.48 L226.30,307.49 L229.30,307.50 L232.30,307.52 L235.30,307.53 L238.30,307.54 L241.30,307.55 L244.30,307.56 L247.30,307.57 L250.30,307.57 L253.30,307.58 L256.30,307.59 L259.30,307.60 L262.30,307.60 L265.30,307.61 L268.30,307.62 L271.30,307.62 L274.30,307.63 L277.30,307.63 L280.30,307.64 L283.30,307.64 L286.30,307.65 L289.30,307.65 L292.30,307.66 L295.30,307.66 L298.30,307.67 L301.30,307.67 L304.30,307.67 L307.30,307.68 L310.30,307.68 L313.30,307.69 L316.30,307.69 L319.30,307.69 L322.30,307.70 L325.30,307.70 L328.30,307.70 L331.30,307.70 L334.30,307.71 L337.30,307.71 L340.30,307.71 L343.30,307.71 L346.30,307.72 L349.30,307.72 L352.30,307.72 L355.30,307.72 L358.30,307.73 L361.30,307.73 L364.30,307.73 L367.30,307.73 L370.30,307.74 L373.30,307.74 L376.30,307.74 L379.30,307.74 L382.30,307.74 L385.30,307.75 L388.30,307.75 L391.30,307.75 L394.30,307.75 L397.30,307.76 L400.30,307.76 L403.30,307.76 L406.30,307.76 L409.30,307.76 L412.30,307.76 L415.30,307.77 L418.30,307.77 L421.30,307.77 L424.30,307.77 L427.30,307.77 L430.30,307.78 L433.30,307.78 L436.30,307.78 L439.30,307.78 L442.30,307.78 L445.30,307.79 L448.30,307.79 L451.30,307.79 L454.30,307.79 L457.30,307.79 L460.30,307.79 L463.30,307.80 L466.30,307.80 L469.30,307.80 L472.30,307.80 L475.30,307.80 L478.30,307.81 L481.30,307.81 L484.30,307.81 L487.30,307.81 L490.30,307.81 L493.30,307.81 L496.30,307.82 L499.30,307.82 L502.30,307.82 L505.30,307.82 L508.30,307.82 L511.30,307.83 L514.30,307.83 L517.30,307.83 L520.30,307.83 L523.30,307.83 L526.30,307.83 L529.30,307.84 L532.30,307.84 L535.30,307.84 L538.30,307.84 L541.30,307.84 L544.30,307.85 L547.30,307.85 L550.30,307.85 L553.30,307.85 L556.30,307.85 L559.30,307.85 L562.30,307.86 L565.30,307.86 L568.30,307.86 L571.30,307.86 L574.30,307.86 L577.30,307.86 L580.30,307.87 L583.30,307.87 L586.30,307.87 L589.30,307.87 L592.30,307.87 L595.30,307.88 L598.30,307.88 L601.30,307.88 L604.30,307.88 L607.30,307.88 L610.30,307.88 L613.30,307.89 L616.30,307.89 L619.30,307.89 L622.30,307.89 L625.30,307.89 L628.30,307.89 L631.30,307.90 L634.30,307.90 L637.30,307.90 L640.30,307.90 L643.30,307.90 L646.30,307.91 L649.30,307.91 L652.30,307.91 L655.30,307.91 L658.30,307.91 L661.30,307.91 L664.30,307.92 L667.30,307.92 L670.30,307.92 L673.30,307.92 L676.30,307.92 L679.30,307.92 L682.30,307.93 L685.30,307.93 L688.30,307.93 L691.30,307.93 L694.30,307.93 L697.30,307.94 L700.30,307.94 L703.30,307.94 L706.30,307.94 L709.30,307.94 L712.30,307.94 L715.30,307.95 L718.30,307.95 L721.30,307.95 L724.30,307.95 L727.30,307.95 L730.30,307.95 L733.30,307.96 L736.30,307.96 L739.30,307.96 L742.30,307.96 L745.30,307.96 L748.30,307.97 L751.30,307.97 L754.30,307.97 L757.30,307.97 L760.30,307.97 L763.30,307.97 L766.30,307.98 L769.30,307.98 L772.30,307.98 L775.30,307.98 L778.30,307.98 L781.30,307.98 L784.30,307.99 L787.30,307.99 L790.30,307.99 L793.30,307.99 L796.30,307.99 L799.30,308.00 L802.30,308.00 L807.20,308.00" fill="none" stroke="#FF8080" stroke-width="4.6" stroke-linejoin="round" stroke-linecap="butt"/>
<path d="M127.30,312.70 L130.30,312.81 L133.30,312.91 L136.30,313.01 L139.30,313.10 L142.30,313.19 L145.30,313.27 L148.30,313.34 L151.30,313.41 L154.30,313.48 L157.30,313.54 L160.30,313.60 L163.30,313.65 L166.30,313.70 L169.30,313.75 L172.30,313.79 L175.30,313.84 L178.30,313.88 L181.30,313.91 L184.30,313.95 L187.30,313.98 L190.30,314.01 L193.30,314.04 L196.30,314.06 L199.30,314.09 L202.30,314.11 L205.30,314.13 L208.30,314.15 L211.30,314.17 L214.30,314.19 L217.30,314.21 L220.30,314.23 L223.30,314.24 L226.30,314.26 L229.30,314.27 L232.30,314.28 L235.30,314.29 L238.30,314.30 L241.30,314.32 L244.30,314.33 L247.30,314.33 L250.30,314.34 L253.30,314.35 L256.30,314.36 L259.30,314.37 L262.30,314.37 L265.30,314.38 L268.30,314.39 L271.30,314.39 L274.30,314.40 L277.30,314.41 L280.30,314.41 L283.30,314.42 L286.30,314.42 L289.30,314.43 L292.30,314.43 L295.30,314.43 L298.30,314.44 L301.30,314.44 L304.30,314.44 L307.30,314.45 L310.30,314.45 L313.30,314.45 L316.30,314.46 L319.30,314.46 L322.30,314.46 L325.30,314.47 L328.30,314.47 L331.30,314.47 L334.30,314.47 L337.30,314.48 L340.30,314.48 L343.30,314.48 L346.30,314.48 L349.30,314.49 L352.30,314.49 L355.30,314.49 L358.30,314.49 L361.30,314.49 L364.30,314.50 L367.30,314.50 L370.30,314.50 L373.30,314.50 L376.30,314.50 L379.30,314.50 L382.30,314.51 L385.30,314.51 L388.30,314.51 L391.30,314.51 L394.30,314.51 L397.30,314.51 L400.30,314.52 L403.30,314.52 L406.30,314.52 L409.30,314.52 L412.30,314.52 L415.30,314.52 L418.30,314.53 L421.30,314.53 L424.30,314.53 L427.30,314.53 L430.30,314.53 L433.30,314.53 L436.30,314.53 L439.30,314.54 L442.30,314.54 L445.30,314.54 L448.30,314.54 L451.30,314.54 L454.30,314.54 L457.30,314.54 L460.30,314.55 L463.30,314.55 L466.30,314.55 L469.30,314.55 L472.30,314.55 L475.30,314.55 L478.30,314.55 L481.30,314.56 L484.30,314.56 L487.30,314.56 L490.30,314.56 L493.30,314.56 L496.30,314.56 L499.30,314.56 L502.30,314.57 L505.30,314.57 L508.30,314.57 L511.30,314.57 L514.30,314.57 L517.30,314.57 L520.30,314.57 L523.30,314.57 L526.30,314.58 L529.30,314.58 L532.30,314.58 L535.30,314.58 L538.30,314.58 L541.30,314.58 L544.30,314.58 L547.30,314.59 L550.30,314.59 L553.30,314.59 L556.30,314.59 L559.30,314.59 L562.30,314.59 L565.30,314.59 L568.30,314.59 L571.30,314.60 L574.30,314.60 L577.30,314.60 L580.30,314.60 L583.30,314.60 L586.30,314.60 L589.30,314.60 L592.30,314.61 L595.30,314.61 L598.30,314.61 L601.30,314.61 L604.30,314.61 L607.30,314.61 L610.30,314.61 L613.30,314.61 L616.30,314.62 L619.30,314.62 L622.30,314.62 L625.30,314.62 L628.30,314.62 L631.30,314.62 L634.30,314.62 L637.30,314.62 L640.30,314.63 L643.30,314.63 L646.30,314.63 L649.30,314.63 L652.30,314.63 L655.30,314.63 L658.30,314.63 L661.30,314.64 L664.30,314.64 L667.30,314.64 L670.30,314.64 L673.30,314.64 L676.30,314.64 L679.30,314.64 L682.30,314.64 L685.30,314.65 L688.30,314.65 L691.30,314.65 L694.30,314.65 L697.30,314.65 L700.30,314.65 L703.30,314.65 L706.30,314.66 L709.30,314.66 L712.30,314.66 L715.30,314.66 L718.30,314.66 L721.30,314.66 L724.30,314.66 L727.30,314.66 L730.30,314.67 L733.30,314.67 L736.30,314.67 L739.30,314.67 L742.30,314.67 L745.30,314.67 L748.30,314.67 L751.30,314.68 L754.30,314.68 L757.30,314.68 L760.30,314.68 L763.30,314.68 L766.30,314.68 L769.30,314.68 L772.30,314.68 L775.30,314.69 L778.30,314.69 L781.30,314.69 L784.30,314.69 L787.30,314.69 L790.30,314.69 L793.30,314.69 L796.30,314.70 L799.30,314.70 L802.30,314.70 L807.20,314.70" fill="none" stroke="#AA0000" stroke-width="4.6" stroke-linejoin="round" stroke-linecap="butt"/>
</g>
<path d="M127.30,59.40h6.6M127.30,48.76h6.6M127.30,41.21h6.6M127.30,35.35h6.6M127.30,30.56h6.6M127.30,26.51h6.6M127.30,23.01h6.6M127.30,119.85h6.6M127.30,109.21h6.6M127.30,101.66h6.6M127.30,95.80h6.6M127.30,91.01h6.6M127.30,86.96h6.6M127.30,83.46h6.6M127.30,77.60h6.6M127.30,180.30h6.6M127.30,169.66h6.6M127.30,162.11h6.6M127.30,156.25h6.6M127.30,151.46h6.6M127.30,147.41h6.6M127.30,143.91h6.6M127.30,138.05h6.6M127.30,240.75h6.6M127.30,230.11h6.6M127.30,222.56h6.6M127.30,216.70h6.6M127.30,211.91h6.6M127.30,207.86h6.6M127.30,204.36h6.6M127.30,198.50h6.6M127.30,301.20h6.6M127.30,290.56h6.6M127.30,283.01h6.6M127.30,277.15h6.6M127.30,272.36h6.6M127.30,268.31h6.6M127.30,264.81h6.6M127.30,258.95h6.6M127.30,361.65h6.6M127.30,351.01h6.6M127.30,343.46h6.6M127.30,337.60h6.6M127.30,332.81h6.6M127.30,328.76h6.6M127.30,325.26h6.6M127.30,319.40h6.6M127.30,422.10h6.6M127.30,411.46h6.6M127.30,403.91h6.6M127.30,398.05h6.6M127.30,393.26h6.6M127.30,389.21h6.6M127.30,385.71h6.6M127.30,379.85h6.6M127.30,482.55h6.6M127.30,471.91h6.6M127.30,464.36h6.6M127.30,458.50h6.6M127.30,453.71h6.6M127.30,449.66h6.6M127.30,446.16h6.6M127.30,440.30h6.6M127.30,543.00h6.6M127.30,532.36h6.6M127.30,524.81h6.6M127.30,518.95h6.6M127.30,514.16h6.6M127.30,510.11h6.6M127.30,506.61h6.6M127.30,500.75h6.6M127.30,603.45h6.6M127.30,592.81h6.6M127.30,585.26h6.6M127.30,579.40h6.6M127.30,574.61h6.6M127.30,570.56h6.6M127.30,567.06h6.6M127.30,561.20h6.6M195.52,621.40v-6.6M235.43,621.40v-6.6M263.75,621.40v-6.6M285.71,621.40v-6.6M303.66,621.40v-6.6M318.83,621.40v-6.6M331.97,621.40v-6.6M422.16,621.40v-6.6M462.06,621.40v-6.6M490.38,621.40v-6.6M512.34,621.40v-6.6M530.29,621.40v-6.6M545.46,621.40v-6.6M558.60,621.40v-6.6M353.93,621.40v-6.6M648.79,621.40v-6.6M688.70,621.40v-6.6M717.01,621.40v-6.6M738.98,621.40v-6.6M756.92,621.40v-6.6M772.09,621.40v-6.6M785.24,621.40v-6.6M580.57,621.40v-6.6" stroke="#000" stroke-width="2.3" fill="none"/>
<rect x="127.30" y="16.90" width="679.90" height="604.50" fill="none" stroke="#000" stroke-width="2.7"/>
<text transform="translate(78.43,26.66) rotate(0.03) scale(1.2003,1)" font-family='"Liberation Serif", serif' font-weight="bold" font-style="normal" font-size="28.89" fill="#000">10</text>
<text transform="translate(112.07,15.54) rotate(0.03) scale(1.0664,1)" font-family='"Liberation Serif", serif' font-weight="bold" font-style="normal" font-size="20.74" fill="#000">0</text>
<text transform="translate(63.39,87.11) rotate(0.03) scale(1.1728,1)" font-family='"Liberation Serif", serif' font-weight="bold" font-style="normal" font-size="28.89" fill="#000">10</text>
<rect x="98" y="69.80" width="12.4" height="2.1" fill="#000"/>
<text transform="translate(111.31,76.20) rotate(0.03) scale(0.9364,1)" font-family='"Liberation Serif", serif' font-weight="bold" font-style="normal" font-size="21.21" fill="#000">1</text>
<text transform="translate(63.39,147.56) rotate(0.03) scale(1.1728,1)" font-family='"Liberation Serif", serif' font-weight="bold" font-style="normal" font-size="28.89" fill="#000">10</text>
<rect x="98" y="130.25" width="12.4" height="2.1" fill="#000"/>
<text transform="translate(111.64,136.65) rotate(0.03) scale(1.0719,1)" font-family='"Liberation Serif", serif' font-weight="bold" font-style="normal" font-size="21.13" fill="#000">2</text>
<text transform="translate(63.39,208.01) rotate(0.03) scale(1.1728,1)" font-family='"Liberation Serif", serif' font-weight="bold" font-style="normal" font-size="28.89" fill="#000">10</text>
<rect x="98" y="190.70" width="12.4" height="2.1" fill="#000"/>
<text transform="translate(111.78,196.89) rotate(0.03) scale(1.0562,1)" font-family='"Liberation Serif", serif' font-weight="bold" font-style="normal" font-size="20.82" fill="#000">3</text>
<text transform="translate(63.39,268.46) rotate(0.03) scale(1.1728,1)" font-family='"Liberation Serif", serif' font-weight="bold" font-style="normal" font-size="28.89" fill="#000">10</text>
<rect x="98" y="251.15" width="12.4" height="2.1" fill="#000"/>
<text transform="translate(112.35,257.55) rotate(0.03) scale(0.9393,1)" font-family='"Liberation Serif", serif' font-weight="bold" font-style="normal" font-size="21.29" fill="#000">4</text>
<text transform="translate(63.39,328.91) rotate(0.03) scale(1.1728,1)" font-family='"Liberation Serif", serif' font-weight="bold" font-style="normal" font-size="28.89" fill="#000">10</text>
<rect x="98" y="311.60" width="12.4" height="2.1" fill="#000"/>
<text transform="translate(111.71,317.79) rotate(0.03) scale(1.0568,1)" font-family='"Liberation Serif", serif' font-weight="bold" font-style="normal" font-size="21.05" fill="#000">5</text>
<text transform="translate(63.39,389.36) rotate(0.03) scale(1.1728,1)" font-family='"Liberation Serif", serif' font-weight="bold" font-style="normal" font-size="28.89" fill="#000">10</text>
<rect x="98" y="372.05" width="12.4" height="2.1" fill="#000"/>
<text transform="translate(111.84,378.24) rotate(0.03) scale(1.0380,1)" font-family='"Liberation Serif", serif' font-weight="bold" font-style="normal" font-size="20.82" fill="#000">6</text>
<text transform="translate(63.39,449.81) rotate(0.03) scale(1.1728,1)" font-family='"Liberation Serif", serif' font-weight="bold" font-style="normal" font-size="28.89" fill="#000">10</text>
<rect x="98" y="432.50" width="12.4" height="2.1" fill="#000"/>
<text transform="translate(111.31,438.90) rotate(0.03) scale(1.0534,1)" font-family='"Liberation Serif", serif' font-weight="bold" font-style="normal" font-size="21.37" fill="#000">7</text>
<text transform="translate(63.39,510.26) rotate(0.03) scale(1.1728,1)" font-family='"Liberation Serif", serif' font-weight="bold" font-style="normal" font-size="28.89" fill="#000">10</text>
<rect x="98" y="492.95" width="12.4" height="2.1" fill="#000"/>
<text transform="translate(111.90,499.14) rotate(0.03) scale(1.0419,1)" font-family='"Liberation Serif", serif' font-weight="bold" font-style="normal" font-size="20.74" fill="#000">8</text>
<text transform="translate(63.39,570.71) rotate(0.03) scale(1.1728,1)" font-family='"Liberation Serif", serif' font-weight="bold" font-style="normal" font-size="28.89" fill="#000">10</text>
<rect x="98" y="553.40" width="12.4" height="2.1" fill="#000"/>
<text transform="translate(112.01,559.59) rotate(0.03) scale(1.0321,1)" font-family='"Liberation Serif", serif' font-weight="bold" font-style="normal" font-size="20.82" fill="#000">9</text>
<text transform="translate(52.04,631.16) rotate(0.03) scale(1.1924,1)" font-family='"Liberation Serif", serif' font-weight="bold" font-style="normal" font-size="28.89" fill="#000">10</text>
<rect x="87.2" y="613.85" width="12.4" height="2.1" fill="#000"/>
<text transform="translate(99.61,620.04) rotate(0.03) scale(1.1364,1)" font-family='"Liberation Serif", serif' font-weight="bold" font-style="normal" font-size="20.74" fill="#000">10</text>
<text transform="translate(104.83,652.70) rotate(0.03) scale(1.1115,1)" font-family='"Liberation Serif", serif' font-weight="bold" font-style="normal" font-size="30.07" fill="#000">10</text>
<text transform="translate(138.99,640.50) rotate(0.03) scale(0.8647,1)" font-family='"Liberation Serif", serif' font-weight="bold" font-style="normal" font-size="20.45" fill="#000">1</text>
<text transform="translate(330.91,652.70) rotate(0.03) scale(1.1190,1)" font-family='"Liberation Serif", serif' font-weight="bold" font-style="normal" font-size="30.07" fill="#000">10</text>
<text transform="translate(364.62,640.60) rotate(0.03) scale(1.1269,1)" font-family='"Liberation Serif", serif' font-weight="bold" font-style="normal" font-size="20.53" fill="#000">2</text>
<text transform="translate(557.91,652.70) rotate(0.03) scale(1.1190,1)" font-family='"Liberation Serif", serif' font-weight="bold" font-style="normal" font-size="30.07" fill="#000">10</text>
<text transform="translate(590.39,640.89) rotate(0.03) scale(1.0989,1)" font-family='"Liberation Serif", serif' font-weight="bold" font-style="normal" font-size="20.97" fill="#000">3</text>
<text transform="translate(784.63,652.70) rotate(0.03) scale(1.1115,1)" font-family='"Liberation Serif", serif' font-weight="bold" font-style="normal" font-size="30.07" fill="#000">10</text>
<text transform="translate(817.93,640.70) rotate(0.03) scale(1.0389,1)" font-family='"Liberation Serif", serif' font-weight="bold" font-style="normal" font-size="20.68" fill="#000">4</text>
<text transform="translate(312.80,39.58) rotate(0.03) scale(1.0787,1)" font-family='"Liberation Serif", serif' font-weight="normal" font-style="normal" font-size="32.08" fill="#800080">cu</text>
<text transform="translate(516.30,91.18) rotate(0.03) scale(1.0693,1)" font-family='"Liberation Serif", serif' font-weight="normal" font-style="normal" font-size="31.91" fill="#FF00FF">bd</text>
<text transform="translate(557.55,126.38) rotate(0.03) scale(1.0310,1)" font-family='"Liberation Serif", serif' font-weight="normal" font-style="normal" font-size="32.29" fill="#0000FF">cc</text>
<text transform="translate(438.60,132.39) rotate(0.03) scale(1.0870,1)" font-family='"Liberation Serif", serif' font-weight="normal" font-style="normal" font-size="31.06" fill="#FF0000">bb</text>
<text transform="translate(327.00,166.58) rotate(0.03) scale(1.0532,1)" font-family='"Liberation Serif", serif' font-weight="normal" font-style="normal" font-size="31.63" fill="#FF8000">bs</text>
<text transform="translate(460.96,189.68) rotate(0.03) scale(1.0513,1)" font-family='"Liberation Serif", serif' font-weight="normal" font-style="normal" font-size="32.17" fill="#FFFF00">tc</text>
<text transform="translate(285.86,221.47) rotate(0.03) scale(1.0722,1)" font-family='"Liberation Serif", serif' font-weight="normal" font-style="normal" font-size="32.98" fill="#AAAA00">uu</text>
<text transform="translate(554.35,271.18) rotate(0.03) scale(1.0645,1)" font-family='"Liberation Serif", serif' font-weight="normal" font-style="normal" font-size="31.63" fill="#00FFFF">sd</text>
<text transform="translate(630.23,300.59) rotate(0.03) scale(1.0905,1)" font-family='"Liberation Serif", serif' font-weight="normal" font-style="normal" font-size="31.46" fill="#FF8080">ss</text>
<text transform="translate(696.58,342.28) rotate(0.03) scale(1.1003,1)" font-family='"Liberation Serif", serif' font-weight="normal" font-style="normal" font-size="31.77" fill="#AA0000">dd</text>
<text transform="translate(483.77,356.41) rotate(0.03) scale(1.0382,1)" font-family='"Liberation Serif", serif' font-weight="normal" font-style="normal" font-size="30.21" fill="#00AA00">gg</text>
<text transform="translate(475.25,439.57) rotate(0.03) scale(1.0709,1)" font-family='"Liberation Serif", serif' font-weight="normal" font-style="normal" font-size="32.87" fill="#996633">tu</text>
<g transform="translate(326.00,474) scale(0.05543)" fill="none" stroke="#000" stroke-linecap="round" stroke-linejoin="round"><path d="M112,206 C130,160 170,128 205,136" stroke-width="22" /><path d="M200,136 C236,152 250,240 256,318" stroke-width="40" /><path d="M403,130 C350,200 300,270 262,322" stroke-width="25" /><path d="M262,322 C245,365 222,420 202,468" stroke-width="34" /><path d="M218,436 L200,470" stroke-width="46" /></g>
<g transform="translate(342.35,474) scale(0.05543)" fill="none" stroke="#000" stroke-linecap="round" stroke-linejoin="round"><path d="M112,206 C130,160 170,128 205,136" stroke-width="22" /><path d="M200,136 C236,152 250,240 256,318" stroke-width="40" /><path d="M403,130 C350,200 300,270 262,322" stroke-width="25" /><path d="M262,322 C245,365 222,420 202,468" stroke-width="34" /><path d="M218,436 L200,470" stroke-width="46" /></g>
<text transform="translate(157.60,594.90) rotate(0.03) scale(1.2727,1)" font-family='"Liberation Serif", serif' font-weight="normal" font-style="italic" font-size="31.15" fill="#000" stroke="#000" stroke-width="1.0" stroke-linejoin="round">Z</text>
<text transform="translate(176.10,600.40) rotate(0.03) scale(1.4177,1)" font-family='"Liberation Serif", serif' font-weight="normal" font-style="normal" font-size="18.87" fill="#000" stroke="#000" stroke-width="0.8">2</text>
<path d="M191.6,579.8 L207.7,594.6 M207.7,579.8 L191.6,594.6" stroke="#000" stroke-width="2.9" fill="none"/>
<text transform="translate(210.50,594.90) rotate(0.03) scale(1.2901,1)" font-family='"Liberation Serif", serif' font-weight="normal" font-style="italic" font-size="31.15" fill="#000" stroke="#000" stroke-width="1.0" stroke-linejoin="round">Z</text>
<text transform="translate(230.34,600.41) rotate(0.03) scale(1.3269,1)" font-family='"Liberation Serif", serif' font-weight="normal" font-style="normal" font-size="19.10" fill="#000" stroke="#000" stroke-width="0.8">5</text>
<text transform="translate(405.69,699.80) rotate(0.03) scale(0.9844,1)" font-family='"Liberation Sans", sans-serif' font-weight="bold" font-style="normal" font-size="31.44" fill="#000">m</text>
<text transform="translate(433.07,706.00) rotate(0.03) scale(1.0375,1)" font-family='"Liberation Sans", sans-serif' font-weight="bold" font-style="normal" font-size="20.09" fill="#000">a</text>
<text transform="translate(445.65,699.99) rotate(0.03) scale(0.9734,1)" font-family='"Liberation Sans", sans-serif' font-weight="bold" font-style="normal" font-size="31.85" fill="#000">(GeV)</text>
<g transform="translate(32.2,338.7) rotate(-90)"><text transform="translate(-2.03,0.00) rotate(0.03) scale(0.9344,1)" font-family='"Liberation Sans", sans-serif' font-weight="bold" font-style="normal" font-size="32.15" fill="#000">BR</text></g>
</svg>
</body></html>
